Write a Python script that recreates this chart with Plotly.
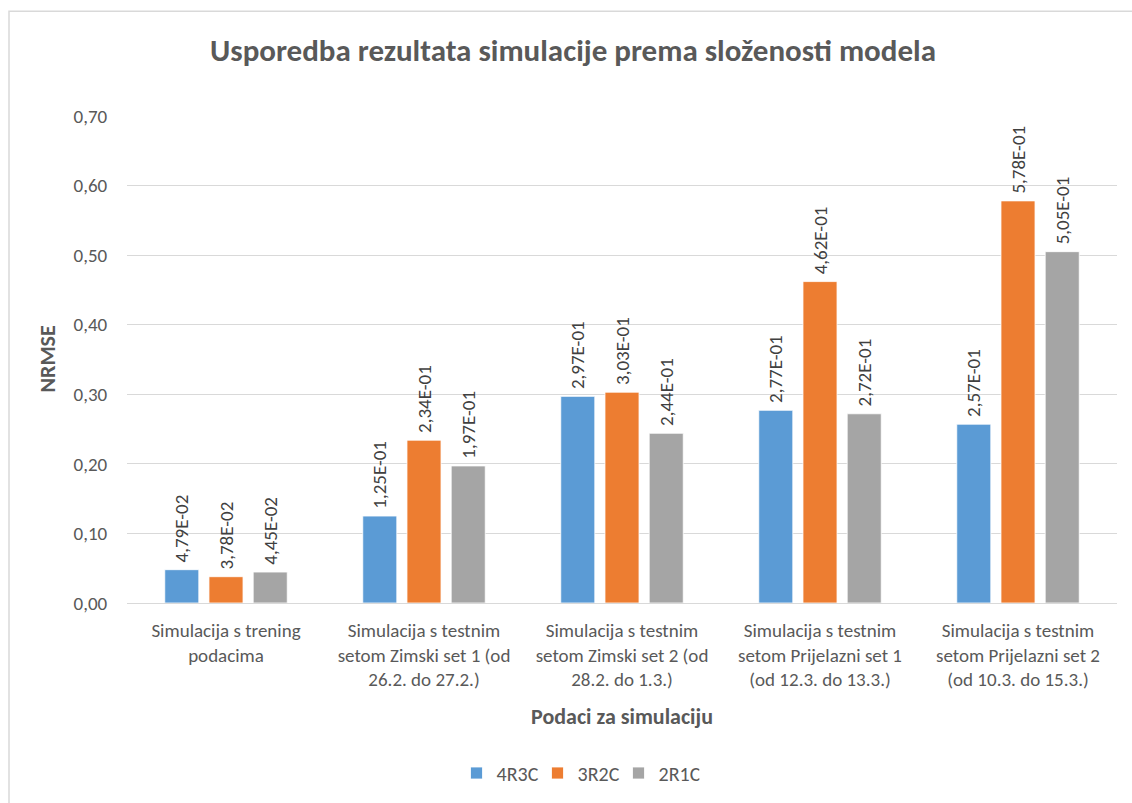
import plotly.graph_objects as go

# Simulation datasets (x categories)
categories = [
    "Simulacija s trening<br>podacima",
    "Simulacija s testnim<br>setom Zimski set 1 (od<br>26.2. do 27.2.)",
    "Simulacija s testnim<br>setom Zimski set 2 (od<br>28.2. do 1.3.)",
    "Simulacija s testnim<br>setom Prijelazni set 1<br>(od 12.3. do 13.3.)",
    "Simulacija s testnim<br>setom Prijelazni set 2<br>(od 10.3. do 15.3.)",
]

# NRMSE per model structure
nrmse_4r3c = [0.0479, 0.125, 0.297, 0.277, 0.257]
nrmse_3r2c = [0.0378, 0.234, 0.303, 0.462, 0.578]
nrmse_2r1c = [0.0445, 0.197, 0.244, 0.272, 0.505]

series_names = ["4R3C", "3R2C", "2R1C"]
colors = ["#5B9BD5", "#ED7D31", "#A5A5A5"]

y_ticks = [0.0, 0.1, 0.2, 0.3, 0.4, 0.5, 0.6, 0.7]

FONT = "Carlito, Calibri, Lato, 'Open Sans', sans-serif"
W, H = 1132, 803
ML, MR, MT, MB = 127, 15, 116, 199
PW, PH = W - ML - MR, H - MT - MB


def sci_label(v):
    # Excel-style scientific label with decimal comma, e.g. 4,79E-02;
    # a leading no-break space keeps the label clear of the bar top
    return "\u00a0" + f"{v:.2E}".replace(".", ",")


def px_to_paper_x(px):
    return (px - ML) / PW


def px_to_paper_y(py):
    return (H - MB - py) / PH


fig = go.Figure()
for name, vals, col in zip(series_names, [nrmse_4r3c, nrmse_3r2c, nrmse_2r1c], colors):
    fig.add_trace(go.Bar(
        name=name,
        x=categories,
        y=vals,
        marker=dict(color=col, line=dict(color="white", width=0.8)),
        text=[sci_label(v) for v in vals],
        textposition="outside",
        textangle=-90,
        textfont=dict(family=FONT, size=19, color="#404040"),
        cliponaxis=False,
        constraintext="none",
    ))

fig.update_layout(
    width=W, height=H,
    margin=dict(l=ML, r=MR, t=MT, b=MB),
    paper_bgcolor="white",
    plot_bgcolor="white",
    separators=", ",
    barmode="group",
    bargap=0.33,
    bargroupgap=0.23,
    font=dict(family=FONT, color="#595959"),
    title=dict(
        text="<b>Usporedba rezultata simulacije prema složenosti modela</b>",
        x=573 / W, xanchor="center", xref="container",
        y=1 - 50 / H, yanchor="middle", yref="container",
        font=dict(family=FONT, size=31, color="#595959"),
    ),
    xaxis=dict(
        tickfont=dict(family=FONT, size=19, color="#595959"),
        showgrid=False,
        showline=True, linecolor="#D9D9D9", linewidth=1,
        ticks="outside", ticklen=10, tickcolor="rgba(0,0,0,0)",
        title=dict(
            text="<b>Podaci za simulaciju</b>",
            font=dict(family=FONT, size=22, color="#595959"),
            standoff=18,
        ),
    ),
    yaxis=dict(
        range=[0, 0.7],
        tickvals=y_ticks,
        tickformat=".2f",
        tickfont=dict(family=FONT, size=19, color="#595959"),
        showgrid=True, gridcolor="#D9D9D9", gridwidth=1,
        zeroline=False,
        ticks="outside", ticklen=15, tickcolor="rgba(0,0,0,0)",
    ),
    legend=dict(
        orientation="h",
        x=px_to_paper_x(578), xanchor="center",
        y=px_to_paper_y(773), yanchor="middle",
        font=dict(family=FONT, size=20, color="#595959"),
        itemwidth=30,
        entrywidth=36,
        entrywidthmode="pixels",
        traceorder="normal",
    ),
    annotations=[dict(
        text="<b>NRMSE</b>",
        x=px_to_paper_x(47), y=0.5, xref="paper", yref="paper",
        xanchor="center", yanchor="middle",
        textangle=-90, showarrow=False,
        font=dict(family=FONT, size=22, color="#595959"),
    )],
    shapes=[dict(
        type="rect", xref="paper", yref="paper",
        x0=px_to_paper_x(9), x1=px_to_paper_x(1150),
        y0=px_to_paper_y(830), y1=px_to_paper_y(11),
        line=dict(color="#D9D9D9", width=1.5),
        fillcolor="rgba(0,0,0,0)", layer="below",
    )],
)

fig.write_html("out.html")
